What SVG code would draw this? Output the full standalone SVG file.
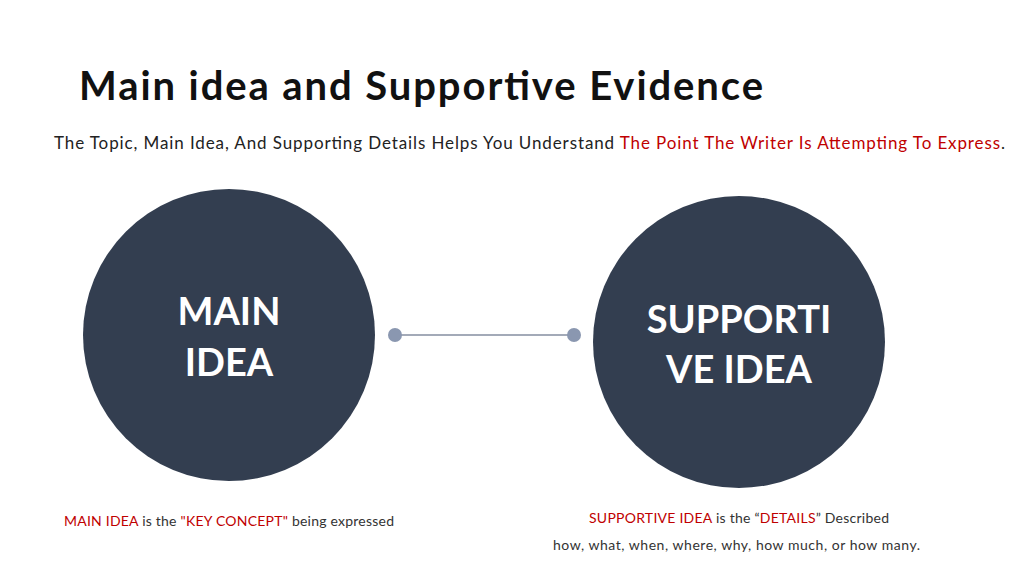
<svg xmlns="http://www.w3.org/2000/svg" width="1024" height="576" viewBox="0 0 1024 576">
<style>
text{font-family:Lato,"Open Sans",sans-serif}
.c{fill:#333e50}
.w{fill:#fff;font-weight:bold;font-size:38px;text-anchor:middle}
.r{fill:#c00000}
.s{font-size:14px;fill:#333}
</style>
<rect width="1024" height="576" fill="#fff"/>
<text x="79" y="100" font-size="40" font-weight="bold" fill="#111" textLength="684">Main idea and Supportive Evidence</text>
<text x="54" y="149" font-size="17" fill="#222" textLength="951">The Topic, Main Idea, And Supporting Details Helps You Understand <tspan class="r">The Point The Writer Is Attempting To Express</tspan>.</text>
<g id="connectors">
<line x1="395" y1="335" x2="574" y2="335" stroke="#a3aab8" stroke-width="2"/>
<circle cx="395" cy="335" r="7" fill="#8a97b0"/>
<circle cx="574" cy="335" r="7" fill="#8a97b0"/>
</g>
<g id="main">
<circle class="c" cx="229" cy="335" r="146"/>
<text class="w" x="229" y="325">MAIN</text>
<text class="w" x="229" y="376">IDEA</text>
</g>
<g id="supportive">
<circle class="c" cx="739" cy="342" r="146"/>
<text class="w" x="739" y="333">SUPPORTI</text>
<text class="w" x="739" y="383">VE IDEA</text>
</g>
<text class="s" x="64" y="526" textLength="330"><tspan class="r">MAIN IDEA</tspan> is the <tspan class="r">"KEY CONCEPT"</tspan> being expressed</text>
<text class="s" x="589" y="523" textLength="300"><tspan class="r">SUPPORTIVE IDEA</tspan> is the “<tspan class="r">DETAILS</tspan>” Described</text>
<text class="s" x="553" y="550" textLength="367">how, what, when, where, why, how much, or how many.</text>
</svg>
